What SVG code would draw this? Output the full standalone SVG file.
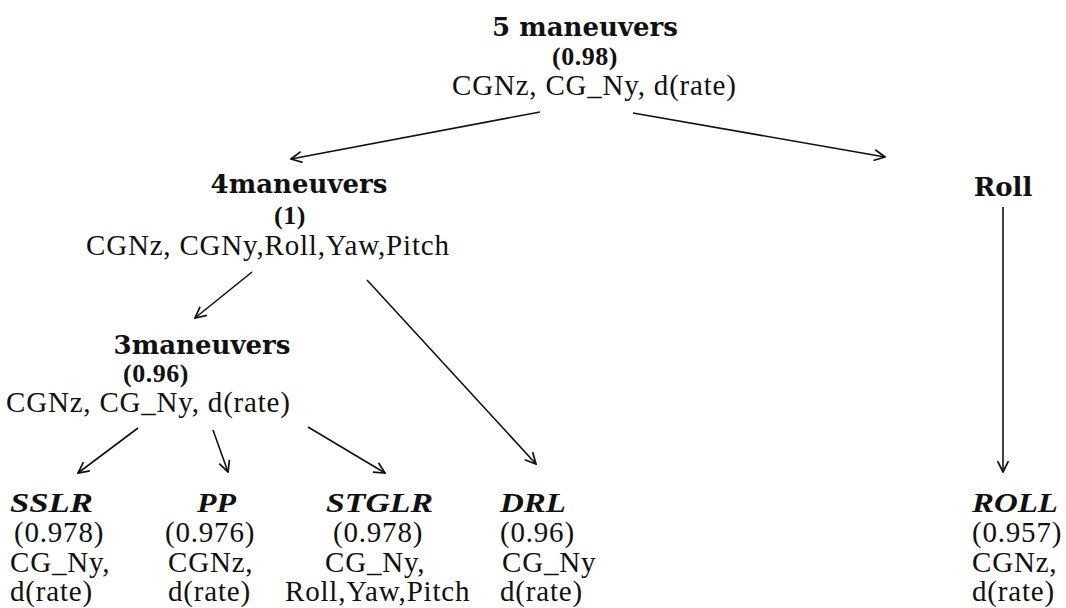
<svg xmlns="http://www.w3.org/2000/svg" width="1066" height="608" viewBox="0 0 1066 608">
<defs>
<style>
.hd{font-family:"DejaVu Serif",serif;font-weight:bold;font-size:26px;fill:#111;}
.sc{font-family:"Liberation Serif",serif;font-weight:bold;font-size:26px;fill:#111;letter-spacing:0.5px;}
.tx{font-family:"Liberation Serif",serif;font-size:29px;fill:#111;letter-spacing:0.8px;}
.it{font-family:"Liberation Serif",serif;font-weight:bold;font-style:italic;font-size:28px;fill:#111;}
.c{text-anchor:middle;}
.ln{stroke:#111;stroke-width:1.6;fill:none;marker-end:url(#ah);}
</style>
<marker id="ah" viewBox="0 0 12 12" refX="11" refY="6" markerWidth="13" markerHeight="13" markerUnits="userSpaceOnUse" orient="auto">
<path d="M1,1 L11,6 L1,11" fill="none" stroke="#111" stroke-width="1.6"/>
</marker>
</defs>
<rect width="1066" height="608" fill="#fff"/>
<g id="n-5maneuvers">
<text class="hd c" x="585" y="36">5 maneuvers</text>
<text class="sc c" x="585" y="65">(0.98)</text>
<text class="tx" x="452" y="95">CGNz, CG_Ny, d(rate)</text>
</g>
<g id="n-4maneuvers">
<text class="hd c" x="299" y="193">4maneuvers</text>
<text class="sc c" x="290" y="224">(1)</text>
<text class="tx" x="86" y="255">CGNz, CGNy,Roll,Yaw,Pitch</text>
</g>
<g id="n-roll">
<text class="hd c" x="1003" y="196">Roll</text>
</g>
<g id="n-3maneuvers">
<text class="hd c" x="202" y="354">3maneuvers</text>
<text class="sc c" x="156" y="382">(0.96)</text>
<text class="tx" x="6" y="412">CGNz, CG_Ny, d(rate)</text>
</g>
<g id="n-sslr">
<text class="it" x="10" y="512" textLength="83" lengthAdjust="spacingAndGlyphs">SSLR</text>
<text class="tx" x="14" y="542">(0.978)</text>
<text class="tx" x="10" y="572">CG_Ny,</text>
<text class="tx" x="10" y="601">d(rate)</text>
</g>
<g id="n-pp">
<text class="it" x="197" y="512" textLength="39" lengthAdjust="spacingAndGlyphs">PP</text>
<text class="tx" x="165" y="542">(0.976)</text>
<text class="tx" x="168" y="572">CGNz,</text>
<text class="tx" x="168" y="601">d(rate)</text>
</g>
<g id="n-stglr">
<text class="it" x="326" y="512" textLength="107" lengthAdjust="spacingAndGlyphs">STGLR</text>
<text class="tx" x="333" y="542">(0.978)</text>
<text class="tx" x="325" y="572">CG_Ny,</text>
<text class="tx" x="285" y="601">Roll,Yaw,Pitch</text>
</g>
<g id="n-drl">
<text class="it" x="500" y="512" textLength="66" lengthAdjust="spacingAndGlyphs">DRL</text>
<text class="tx" x="500" y="542">(0.96)</text>
<text class="tx" x="502" y="572">CG_Ny</text>
<text class="tx" x="500" y="601">d(rate)</text>
</g>
<g id="n-roll-leaf">
<text class="it" x="972" y="512" textLength="86" lengthAdjust="spacingAndGlyphs">ROLL</text>
<text class="tx" x="972" y="542">(0.957)</text>
<text class="tx" x="972" y="572">CGNz,</text>
<text class="tx" x="972" y="601">d(rate)</text>
</g>
<g id="connectors">
<line class="ln" x1="540" y1="112" x2="291" y2="159"/>
<line class="ln" x1="633" y1="113" x2="885" y2="157"/>
<line class="ln" x1="1003" y1="207" x2="1003" y2="472"/>
<line class="ln" x1="252" y1="272" x2="195" y2="318"/>
<line class="ln" x1="367" y1="280" x2="536" y2="464"/>
<line class="ln" x1="138" y1="428" x2="78" y2="473"/>
<line class="ln" x1="213" y1="430" x2="228" y2="472"/>
<line class="ln" x1="308" y1="427" x2="385" y2="473"/>
</g>
</svg>
